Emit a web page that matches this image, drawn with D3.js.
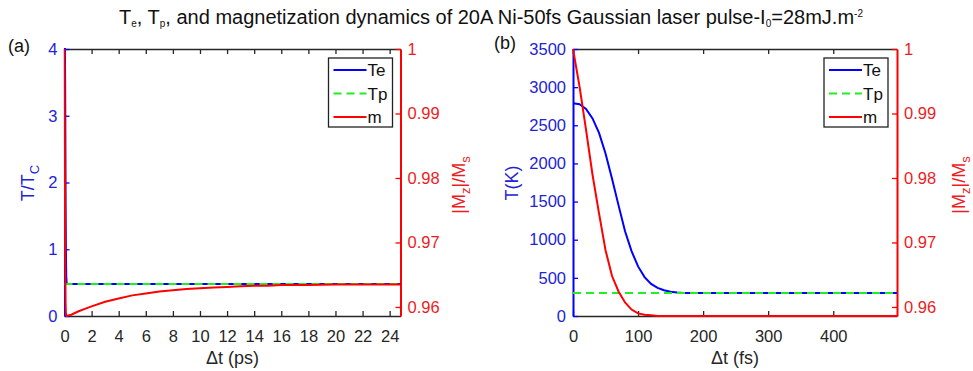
<!DOCTYPE html>
<html><head><meta charset="utf-8">
<script src="https://cdn.jsdelivr.net/npm/d3@7"></script>
<style>
body{margin:0;background:#fff}
svg{display:block}
text{font-family:"Liberation Sans",Arial,sans-serif}
</style>
</head><body>
<svg id="c" width="973" height="371"></svg>
<script>
// ---------- DATA ----------
// Panel (a): time in ps, temperatures normalised by Tc, magnetization |Mz|/Ms
const tA  = [0, 0.02, 0.05, 0.08, 0.1, 0.13, 0.16, 0.2, 0.3, 0.5, 1, 1.5, 2, 3, 4, 5, 6, 7, 8, 9, 10, 11, 12, 13, 14, 15, 16, 18, 20, 22, 24.8];
const teA = [4.45, 4.33, 3.40, 1.77, 1.04, 0.59, 0.49, 0.48, 0.478, 0.478, 0.478, 0.478, 0.478, 0.478, 0.478, 0.478, 0.478, 0.478, 0.478, 0.478, 0.478, 0.478, 0.478, 0.478, 0.478, 0.478, 0.478, 0.478, 0.478, 0.478, 0.478];
const tpA = [0.478, 0.478, 0.478, 0.478, 0.478, 0.478, 0.478, 0.478, 0.478, 0.478, 0.478, 0.478, 0.478, 0.478, 0.478, 0.478, 0.478, 0.478, 0.478, 0.478, 0.478, 0.478, 0.478, 0.478, 0.478, 0.478, 0.478, 0.478, 0.478, 0.478, 0.478];
const mA  = [1.0, 0.9875, 0.9688, 0.9608, 0.9591, 0.9587, 0.9586, 0.9586, 0.9587, 0.9588, 0.9593, 0.9597, 0.9601, 0.9608, 0.9613, 0.9618, 0.9621, 0.9624, 0.9626, 0.9628, 0.9629, 0.9630, 0.9631, 0.9632, 0.9633, 0.9633, 0.9634, 0.9634, 0.9635, 0.9635, 0.9635];

// Panel (b): time in fs, temperatures in K
const tB  = [0, 10, 20, 30, 40, 50, 60, 70, 80, 90, 100, 110, 120, 130, 140, 150, 160, 170, 180, 190, 200, 250, 300, 350, 400, 450, 498];
const teB = [2790, 2775, 2715, 2590, 2400, 2130, 1800, 1450, 1110, 850, 650, 510, 420, 368, 337, 318, 308, 303, 301, 300, 300, 300, 300, 300, 300, 300, 300];
const tpB = [300, 300, 300, 300, 300, 300, 300, 300, 300, 300, 300, 300, 300, 300, 300, 300, 300, 300, 300, 300, 300, 300, 300, 300, 300, 300, 300];
const mB  = [1.0, 0.9942, 0.9875, 0.9805, 0.9745, 0.9688, 0.9648, 0.9624, 0.9607, 0.9596, 0.9590, 0.9588, 0.9587, 0.9586, 0.9586, 0.9586, 0.9586, 0.9586, 0.9586, 0.9586, 0.9586, 0.9586, 0.9586, 0.9586, 0.9586, 0.9586, 0.9586];

// Tick labels
const xTicksA = [0, 2, 4, 6, 8, 10, 12, 14, 16, 18, 20, 22, 24];
const yTicksA = [0, 1, 2, 3, 4];
const xTicksB = [0, 100, 200, 300, 400];
const yTicksB = [0, 500, 1000, 1500, 2000, 2500, 3000, 3500];
const mTicks  = [0.96, 0.97, 0.98, 0.99, 1];
const legendLabels = ["Te", "Tp", "m"];

// ---------- STYLE ----------
const BLUE = "#0000ff", BLUE_T = "#2323d6", RED = "#ff0000", RED_T = "#ec1c24", GREEN = "#22ee22", DARK = "#262626";
const TICK_FS = 16.5;

const svg = d3.select("#c");

function panel(P) {
  const x  = d3.scaleLinear().domain(P.xDomain).range([P.left, P.right]);
  const yL = d3.scaleLinear().domain(P.yLDomain).range([P.bottom, P.top]);
  const yR = d3.scaleLinear().domain([0.9586, 1]).range([P.bottom, P.top]);
  const g = svg.append("g");

  const clipId = "clip" + P.name;
  svg.append("clipPath").attr("id", clipId).append("rect")
    .attr("x", P.left - 1).attr("y", P.top - 1)
    .attr("width", P.right - P.left + 2).attr("height", P.bottom - P.top + 2);

  const xb = g.append("g").attr("transform", `translate(0,${P.bottom})`)
    .call(d3.axisBottom(x).tickValues(P.xTicks).tickSizeInner(-5).tickSizeOuter(0).tickPadding(14).tickFormat(d3.format("d")));
  const xt = g.append("g").attr("transform", `translate(0,${P.top})`)
    .call(d3.axisTop(x).tickValues(P.xTicks).tickSizeInner(-5).tickSizeOuter(0).tickFormat(""));
  [xb, xt].forEach(a => {
    a.select(".domain").attr("stroke", DARK).attr("stroke-width", 1.5);
    a.selectAll(".tick line").attr("stroke", DARK).attr("stroke-width", 1.3);
    a.selectAll("text").attr("fill", DARK).attr("font-size", TICK_FS).attr("font-family", "Liberation Sans, Arial, sans-serif");
  });
  const al = g.append("g").attr("transform", `translate(${P.left},0)`)
    .call(d3.axisLeft(yL).tickValues(P.yTicks).tickSizeInner(-5).tickSizeOuter(0).tickPadding(7).tickFormat(d3.format("d")));
  al.select(".domain").attr("stroke", BLUE).attr("stroke-width", 2);
  al.selectAll(".tick line").attr("stroke", BLUE).attr("stroke-width", 1.3);
  al.selectAll("text").attr("fill", BLUE_T).attr("font-size", TICK_FS).attr("font-family", "Liberation Sans, Arial, sans-serif");
  const ar = g.append("g").attr("transform", `translate(${P.right},0)`)
    .call(d3.axisRight(yR).tickValues(mTicks).tickSizeInner(-5).tickSizeOuter(0).tickPadding(7)
      .tickFormat(d => d === 1 ? "1" : d3.format(".2f")(d)));
  ar.select(".domain").attr("stroke", RED).attr("stroke-width", 2);
  ar.selectAll(".tick line").attr("stroke", RED).attr("stroke-width", 1.3);
  ar.selectAll("text").attr("fill", RED_T).attr("font-size", TICK_FS).attr("font-family", "Liberation Sans, Arial, sans-serif");

  const dg = g.append("g").attr("clip-path", `url(#${clipId})`);
  const lineL = d3.line().x((d, i) => x(P.t[i])).y(d => yL(d));
  const lineR = d3.line().x((d, i) => x(P.t[i])).y(d => yR(d));
  dg.append("path").attr("d", lineL(P.te)).attr("fill", "none").attr("stroke", BLUE).attr("stroke-width", 2);
  dg.append("path").attr("d", lineL(P.tp)).attr("fill", "none").attr("stroke", GREEN).attr("stroke-width", 2).attr("stroke-dasharray", "8,5");
  dg.append("path").attr("d", lineR(P.m)).attr("fill", "none").attr("stroke", RED).attr("stroke-width", 2);

  g.append("text").attr("x", (P.left + P.right) / 2).attr("y", 364).attr("text-anchor", "middle")
    .attr("font-size", 18).attr("fill", DARK).text(P.xLabel);
  const yl = g.append("text").attr("transform", `translate(${P.yLabelX},183) rotate(-90)`).attr("text-anchor", "middle")
    .attr("font-size", 18).attr("fill", BLUE_T);
  P.yLabel.forEach(s => {
    const ts = yl.append("tspan").text(s.t);
    if (s.sub) ts.attr("dy", 5).attr("font-size", 13);
    else if (s.after) ts.attr("dy", -5);
  });
  const yr = g.append("text").attr("transform", `translate(${P.rLabelX},185) rotate(-90)`).attr("text-anchor", "middle")
    .attr("font-size", 18).attr("fill", RED_T);
  [{t: "|M"}, {t: "z", sub: true}, {t: "|/M", after: true}, {t: "s", sub: true}].forEach(s => {
    const ts = yr.append("tspan").text(s.t);
    if (s.sub) ts.attr("dy", 5).attr("font-size", 13);
    else if (s.after) ts.attr("dy", -5);
  });

  g.append("text").attr("x", P.letterX).attr("y", P.letterY).attr("font-size", 18).attr("fill", "#111").text(P.letter);

  const L = P.legend;
  const lg = g.append("g");
  lg.append("rect").attr("x", L.x).attr("y", L.y).attr("width", L.w).attr("height", L.h)
    .attr("fill", "#fff").attr("stroke", "#222").attr("stroke-width", 1.3);
  const rows = [{c: BLUE, dash: null}, {c: GREEN, dash: "8,5"}, {c: RED, dash: null}];
  rows.forEach((r, i) => {
    const yy = L.y + 12 + i * 23.5;
    lg.append("line").attr("x1", L.x + 5).attr("x2", L.x + 38).attr("y1", yy).attr("y2", yy)
      .attr("stroke", r.c).attr("stroke-width", 2).attr("stroke-dasharray", r.dash);
    lg.append("text").attr("x", L.x + 39).attr("y", yy + 6).attr("font-size", 17).attr("fill", "#111").text(legendLabels[i]);
  });
}

panel({
  name: "a", left: 64.5, right: 400.5, top: 49, bottom: 316,
  xDomain: [0, 24.8], yLDomain: [0, 4], xTicks: xTicksA, yTicks: yTicksA,
  t: tA, te: teA, tp: tpA, m: mA,
  xLabel: "\u0394t (ps)", yLabel: [{t: "T/T"}, {t: "C", sub: true}], yLabelX: 34, rLabelX: 465,
  letter: "(a)", letterX: 8, letterY: 52,
  legend: {x: 328.5, y: 58, w: 64, h: 69}
});
panel({
  name: "b", left: 573, right: 897, top: 49, bottom: 316,
  xDomain: [0, 498], yLDomain: [0, 3500], xTicks: xTicksB, yTicks: yTicksB,
  t: tB, te: teB, tp: tpB, m: mB,
  xLabel: "\u0394t (fs)", yLabel: [{t: "T(K)"}], yLabelX: 518, rLabelX: 965,
  letter: "(b)", letterX: 494, letterY: 49,
  legend: {x: 824, y: 58, w: 64, h: 69}
});

const title = svg.append("text").attr("x", 491).attr("y", 24).attr("text-anchor", "middle")
  .attr("font-family", "Open Sans, sans-serif").attr("font-size", 18).attr("fill", "#111");
[
  {t: "T"}, {t: "e", sub: true}, {t: ", T", back: true}, {t: "p", sub: true},
  {t: ", and magnetization dynamics of 20A Ni-50fs Gaussian laser pulse-I", back: true},
  {t: "0", sub: true}, {t: "=28mJ.m", back: true}, {t: "-2", sup: true}
].forEach(s => {
  const ts = title.append("tspan").text(s.t);
  if (s.sub) ts.attr("dy", 3).attr("font-size", 10);
  if (s.back) ts.attr("dy", -3);
  if (s.sup) ts.attr("dy", -7).attr("font-size", 10);
});
const tw = title.node().getComputedTextLength();
title.attr("font-size", Math.min(20, 18 * 787 / tw));
</script>
</body></html>
